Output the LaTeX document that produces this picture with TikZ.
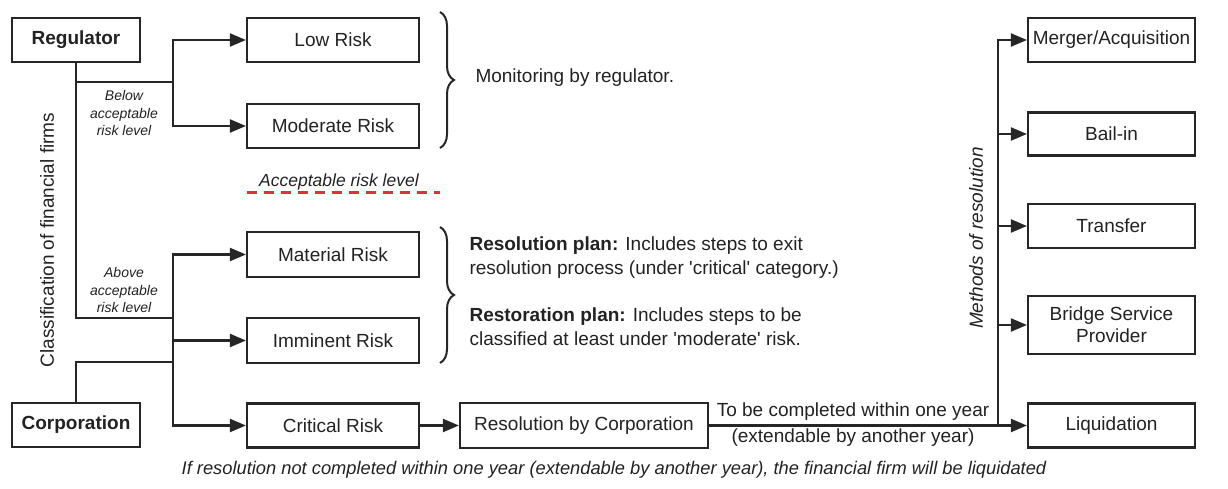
\documentclass[tikz,border=0pt]{standalone}
\usepackage{fontspec}
\setmainfont{Liberation Sans}
\usetikzlibrary{arrows.meta, positioning, decorations.pathreplacing}
\definecolor{figred}{HTML}{E0303A}
\definecolor{figtext}{HTML}{222222}
\tikzset{
  figbox/.style={draw=black!85, line width=2.2pt, fill=white, align=center,
    inner sep=0pt, font=\fontsize{19}{22}\selectfont, text=figtext},
  actorbox/.style={figbox, font=\fontsize{19}{22}\selectfont\bfseries,
    minimum width=128pt, minimum height=44pt},
  riskbox/.style={figbox, minimum width=172pt, minimum height=44pt},
  methodbox/.style={figbox, minimum width=167pt, minimum height=44pt},
  figline/.style={line width=2.2pt, black!85},
  figarrow/.style={figline, -{Triangle[length=16pt, width=13pt]}},
  figlabel/.style={font=\fontsize{19}{24}\selectfont, text=figtext, align=left},
  fignote/.style={font=\fontsize{14}{17.5}\selectfont\itshape, text=figtext, align=center},
  figbrace/.style={decorate, decoration={brace, amplitude=14pt}, line width=2pt, black!85},
}
\begin{document}
\begin{tikzpicture}[x=1pt, y=-1pt]
  \useasboundingbox (0,0) rectangle (1228,488);
  % who classifies
  \node[actorbox] (reg) at (76,40) {Regulator};
  \node[actorbox] (corp) at (76,425) {Corporation};
  \node[figlabel, rotate=90, align=center] (classif) at (47,240) {Classification of financial firms};
  % risk categories
  \node[riskbox] (low) at (333,40) {Low Risk};
  \node[riskbox] (mod) at (333,126) {Moderate Risk};
  \node[riskbox, minimum height=45pt] (mat) at (333,254.5) {Material Risk};
  \node[riskbox, minimum height=45pt] (imm) at (333,340.5) {Imminent Risk};
  \node[riskbox] (crit) at (333,425.5) {Critical Risk};
  \coordinate (below) at (173,82);
  \coordinate (above) at (173,318);
  \coordinate (corpjoin) at (173,362);
  \node[fignote] (belowtxt) at (124,113) {Below\\acceptable\\risk level};
  \node[fignote] (abovetxt) at (124,290) {Above\\acceptable\\risk level};
  \draw[figline] (reg.south) |- (above);
  \draw[figline] (reg.south |- below) -- (below);
  \draw[figline] (corp.north) |- (corpjoin);
  \draw[figarrow] (below) |- (low);
  \draw[figarrow] (below) |- (mod);
  \draw[figarrow] (above) |- (mat);
  \draw[figarrow] (above) |- (imm);
  \draw[figarrow] (above) |- (crit);
  % acceptable level
  \node[figlabel, font=\fontsize{17.5}{20}\selectfont\itshape] (acc) at (339,182) {Acceptable risk level};
  \draw[figred, line width=3pt, dash pattern=on 10pt off 7pt] (247,192) -- (440,192);
  % braces and notes
  \draw[figbrace] (440,12) -- (440,148);
  \node[figlabel, anchor=west] (monitor) at (472,78) {Monitoring by regulator.};
  \draw[figbrace] (440,227) -- (440,363);
  \node[figlabel, anchor=west] (resplan) at (466,258) {\textbf{Resolution plan:} Includes steps to exit\\resolution process (under \textquotesingle critical\textquotesingle\ category.)};
  \node[figlabel, anchor=west] (restplan) at (466,327) {\textbf{Restoration plan:} Includes steps to be\\classified at least under \textquotesingle moderate\textquotesingle\ risk.};
  % resolution
  \node[figbox, minimum width=248pt, minimum height=45pt] (res) at (584,425.5) {Resolution by Corporation};
  \draw[figarrow] (crit) -- (res);
  \node[methodbox] (merg) at (1111.5,40) {Merger/Acquisition};
  \node[methodbox, minimum height=43pt] (bail) at (1111.5,134) {Bail-in};
  \node[methodbox] (trans) at (1111.5,226) {Transfer};
  \node[methodbox, minimum height=58pt] (bridge) at (1111.5,325) {Bridge Service\\Provider};
  \node[methodbox] (liq) at (1111.5,425.5) {Liquidation};
  \coordinate (split) at (998,425.5);
  \draw[figarrow] (res) -- (liq);
  \draw[figarrow] (split) |- (merg);
  \draw[figarrow] (split) |- (bail);
  \draw[figarrow] (split) |- (trans);
  \draw[figarrow] (split) |- (bridge);
  \node[figlabel, rotate=90, font=\fontsize{19}{22}\selectfont\itshape] (methods) at (976,238) {Methods of resolution};
  \node[figlabel, anchor=south, inner sep=1pt] (within) at (853,422) {To be completed within one year};
  \node[figlabel, anchor=north, inner sep=1pt] (extend) at (853,428) {(extendable by another year)};
  \node[figlabel, font=\fontsize{18.3}{20}\selectfont\itshape] (liqnote) at (614,470) {If resolution not completed within one year (extendable by another year), the financial firm will be liquidated};
\end{tikzpicture}
\end{document}
